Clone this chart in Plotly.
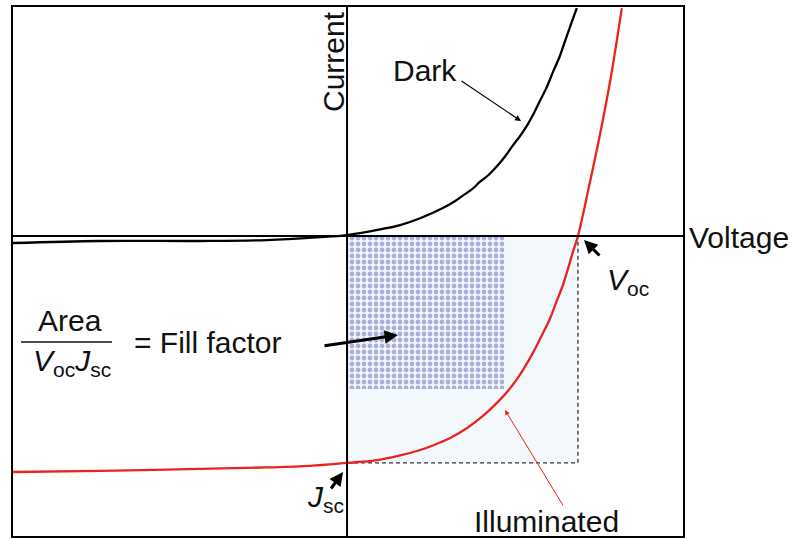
import plotly.graph_objects as go

# ---- data (voltage in V, current normalised to |Jsc| = 1) ----
dark_v = [-0.868, -0.642, -0.382, -0.208, -0.078, 0.0, 0.086, 0.138, 0.190, 0.249, 0.281, 0.301, 0.325,
          0.345, 0.369, 0.390, 0.410, 0.431, 0.449, 0.468, 0.483, 0.501, 0.519, 0.535, 0.553, 0.571, 0.584, 0.597]
dark_i = [-0.031, -0.022, -0.022, -0.018, -0.006, 0.004, 0.029, 0.048, 0.078, 0.123, 0.154, 0.178, 0.206,
          0.238, 0.271, 0.308, 0.349, 0.399, 0.439, 0.487, 0.533, 0.595, 0.656, 0.722, 0.793, 0.881, 0.943, 1.004]

illum_v = [-0.868, -0.642, -0.382, -0.208, -0.096, 0.0, 0.073, 0.138, 0.190, 0.223, 0.268, 0.312, 0.353, 0.397,
           0.418, 0.442, 0.462, 0.483, 0.504, 0.527, 0.545, 0.561, 0.574, 0.587, 0.600, 0.629, 0.657, 0.686, 0.714]
illum_i = [-1.040, -1.035, -1.026, -1.020, -1.013, -1.0, -0.989, -0.967, -0.943, -0.923, -0.890, -0.846, -0.793, -0.722,
           -0.683, -0.630, -0.577, -0.515, -0.445, -0.366, -0.286, -0.216, -0.145, -0.070, 0.0, 0.220, 0.445, 0.705, 1.004]

V_oc = 0.60
J_sc = -1.0
V_mp = 0.408
J_mp = -0.674

x_range = [-0.868, 0.873]
y_range = [-1.322, 1.009]

FONT = "Liberation Sans, Arial, sans-serif"
W, H = 792, 539
L, R, T, B = 13, 683, 7, 536


def px(x):
    return (x - L) / (R - L)


def py(y):
    return (B - y) / (B - T)


fig = go.Figure()

# light blue Voc*Jsc rectangle
fig.add_trace(go.Scatter(
    x=[0, V_oc, V_oc, 0, 0], y=[0, 0, J_sc, J_sc, 0],
    mode="lines", fill="toself", fillcolor="#f3f8fd",
    line=dict(width=0), hoverinfo="skip", showlegend=False))
# dashed edges
fig.add_trace(go.Scatter(
    x=[0, V_oc, V_oc], y=[J_sc, J_sc, 0], mode="lines",
    line=dict(color="#333333", width=1.3, dash="4px,3px"),
    hoverinfo="skip", showlegend=False))
# dotted max-power rectangle
fig.add_trace(go.Scatter(
    x=[0, V_mp, V_mp, 0, 0], y=[0, 0, J_mp, J_mp, 0],
    mode="lines", fill="toself",
    fillpattern=dict(shape=".", fgcolor="#5f6cbc", bgcolor="#f4f5fc", size=6, solidity=0.5),
    line=dict(width=0), hoverinfo="skip", showlegend=False))

# curves
fig.add_trace(go.Scatter(x=dark_v, y=dark_i, mode="lines", line=dict(color="black", width=2.3, shape="spline", smoothing=1.0),
                         hoverinfo="skip", showlegend=False))
fig.add_trace(go.Scatter(x=illum_v, y=illum_i, mode="lines", line=dict(color="#e8241c", width=2.3, shape="spline", smoothing=1.0),
                         hoverinfo="skip", showlegend=False))

# axes through origin
fig.add_shape(type="line", xref="paper", yref="y", x0=0, x1=1, y0=0, y1=0,
              line=dict(color="black", width=2), layer="above")
fig.add_shape(type="line", xref="x", yref="paper", x0=0, x1=0, y0=0, y1=1,
              line=dict(color="black", width=2), layer="above")
# fraction bar
fig.add_shape(type="line", xref="paper", yref="paper", x0=px(21), x1=px(112), y0=py(342), y1=py(342),
              line=dict(color="#111111", width=1.6))

ann = []


def text(x, y, s, **kw):
    d = dict(xref="paper", yref="paper", x=px(x), y=py(y), text=s, showarrow=False,
             font=dict(family=FONT, size=30, color="#111111"), xanchor="center", yanchor="middle")
    d.update(kw)
    ann.append(d)


def arrow(hx, hy, tx, ty, color="black", width=1.2, head=2, size=1.0):
    ann.append(dict(xref="paper", yref="paper", x=px(hx), y=py(hy), ax=tx - hx, ay=ty - hy,
                    text="", showarrow=True, arrowhead=head, arrowsize=size, arrowwidth=width,
                    arrowcolor=color, standoff=0, startstandoff=0))


text(687, 237, "Voltage", xanchor="left")
text(333, 62, "Current", textangle=-90)
text(425, 70, "Dark")
text(546, 521, "Illuminated")
text(628, 281, "<i>V</i><sub>oc</sub>")
text(325, 498, "<i>J</i><sub>sc</sub>")
text(70, 320, "Area")
text(72, 362, "<i>V</i><sub>oc</sub><i>J</i><sub>sc</sub>")
text(208, 342, "= Fill factor")

arrow(521, 121, 460, 80, width=1.2)
arrow(505, 410, 564, 507, color="#e8241c", width=1.0)
arrow(398, 335, 323, 346, width=3, size=0.9)
arrow(584, 240, 601, 257, width=3, size=0.9)
arrow(343, 472, 330, 490, width=3, size=0.9)

fig.update_layout(
    width=W, height=H,
    margin=dict(l=L, r=W - R, t=T, b=H - B, pad=0),
    plot_bgcolor="white", paper_bgcolor="white",
    annotations=ann,
    xaxis=dict(range=x_range, showgrid=False, zeroline=False, showticklabels=False, ticks="",
               showline=True, mirror=True, linecolor="black", linewidth=1.5, fixedrange=True),
    yaxis=dict(range=y_range, showgrid=False, zeroline=False, showticklabels=False, ticks="",
               showline=True, mirror=True, linecolor="black", linewidth=1.5, fixedrange=True),
)

fig.write_html("out.html", config={"displayModeBar": False},
               post_script="document.body.style.margin='0';document.body.style.overflow='hidden';")
